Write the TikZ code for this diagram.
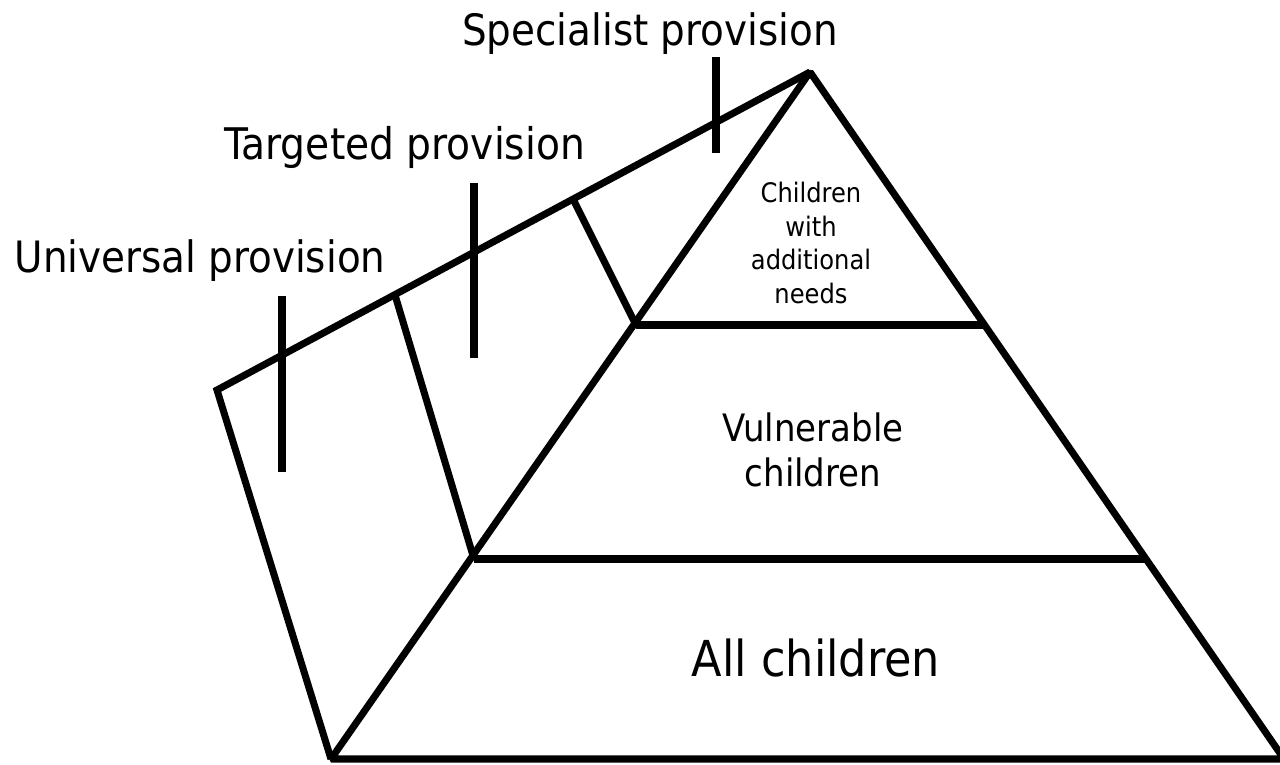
\documentclass[tikz,border=0pt]{standalone}
\usepackage{fontspec}
\setmainfont{DejaVu Sans Condensed}
\usepackage{tikz}

\begin{document}
\begin{tikzpicture}[x=0.02cm,y=-0.02cm,line width=4pt]
          \useasboundingbox (0,0) rectangle (1280,764);

          \coordinate (apex) at (810,72);
          \coordinate (bl) at (331,759);
          \coordinate (br) at (1284,759);
          \coordinate (back) at (217,390);

          % pyramid and its back face
          \draw[line join=bevel] (apex) -- (bl) -- (br) -- cycle;
          \draw (636,325) -- (983,325);
          \draw (474,559) -- (1146,559);
          \draw (bl) -- (back) -- (apex);

          % dividers on the back face
          \draw (395,295) -- (474,559);
          \draw (573,199) -- (636,325);

          % ticks
          \draw (282,296) -- (282,472);
          \draw (474,183) -- (474,358);
          \draw (716,57) -- (716,153);

          \node[anchor=base] (spec) at (650,45) {\fontsize{24.6pt}{28pt}\selectfont Specialist provision};
          \node[anchor=base] (targ) at (405,159) {\fontsize{24.8pt}{28pt}\selectfont Targeted provision};
          \node[anchor=base] (univ) at (200,272) {\fontsize{24.6pt}{28pt}\selectfont Universal provision};

          \node[align=center,inner sep=0pt,font=\fontsize{15.3pt}{19.3pt}\selectfont] (needs) at (811,243) {Children\\with\\additional\\needs};
          \node[align=center,inner sep=0pt,font=\fontsize{21.5pt}{26pt}\selectfont] (vuln) at (813,450) {Vulnerable\\children};
          \node[inner sep=0pt,font=\fontsize{28.2pt}{34pt}\selectfont] (all) at (816,658) {All children};
        \end{tikzpicture}
\end{document}
